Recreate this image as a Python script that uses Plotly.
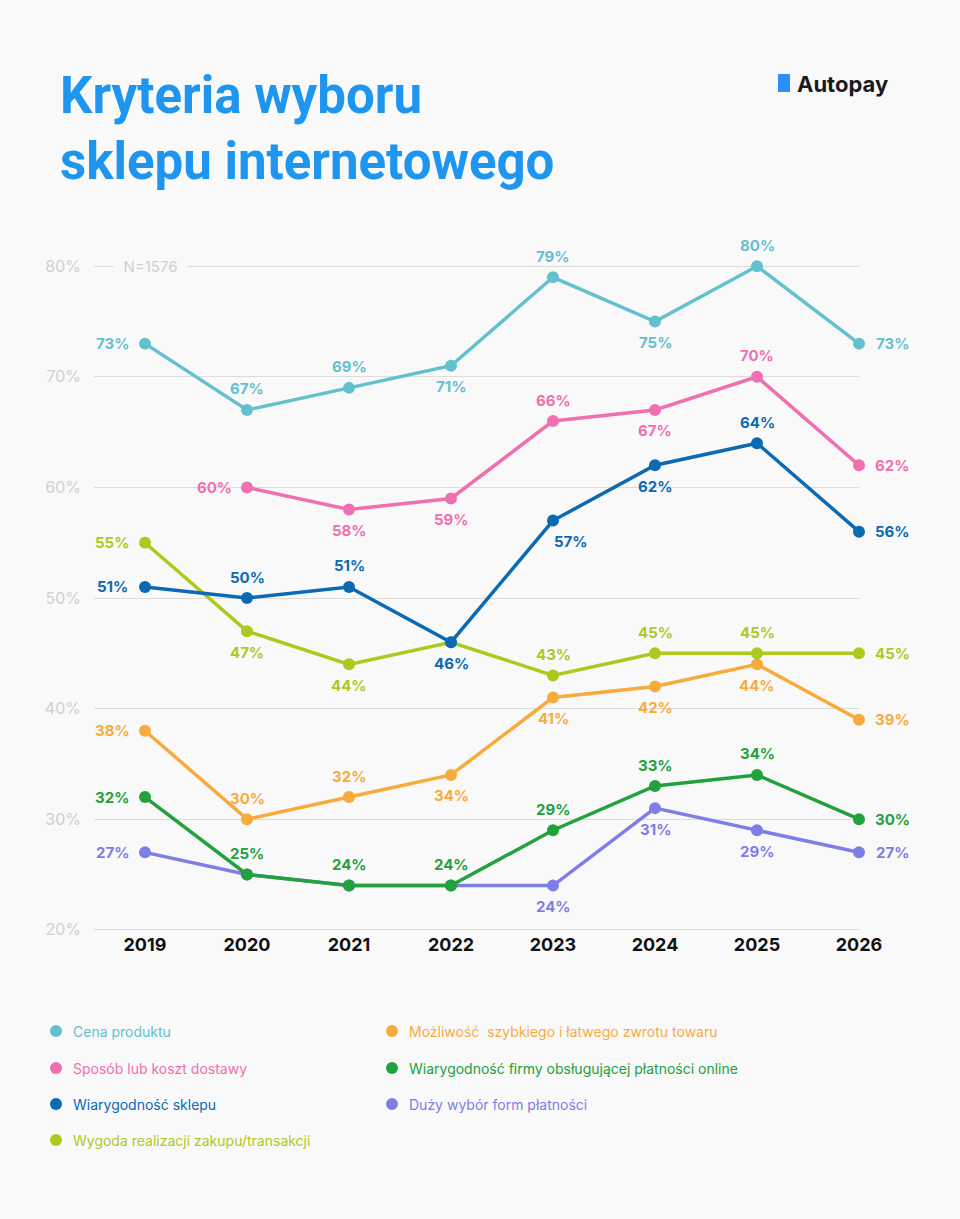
import plotly.graph_objects as go

years = [2019, 2020, 2021, 2022, 2023, 2024, 2025, 2026]
names = ["Cena produktu", "Sposób lub koszt dostawy", "Wiarygodność sklepu",
         "Wygoda realizacji zakupu/transakcji", "Możliwość  szybkiego i łatwego zwrotu towaru",
         "Wiarygodność firmy obsługującej płatności online", "Duży wybór form płatności"]
cena = [73, 67, 69, 71, 79, 75, 80, 73]
dostawa = [None, 60, 58, 59, 66, 67, 70, 62]
sklep = [51, 50, 51, 46, 57, 62, 64, 56]
wygoda = [55, 47, 44, 46, 43, 45, 45, 45]
zwrot = [38, 30, 32, 34, 41, 42, 44, 39]
firma = [32, 25, 24, 24, 29, 33, 34, 30]
wybor = [27, 25, 24, 24, 24, 31, 29, 27]
y_ticks = [20, 30, 40, 50, 60, 70, 80]
y_labels = [f"{t}%" for t in y_ticks]
series = [cena, dostawa, sklep, wygoda, zwrot, firma, wybor]
colors = ["#63c1cf", "#ef6fb0", "#0a6ab4", "#afc81e", "#f7ab3c", "#22a13c", "#7f7de6"]
# label placement: L left, R right, A above, B below, None = no label
pos = [
    ["L", "A", "A", "B", "A", "B", "A", "R"],
    [None, "L", "B", "B", "A", "B", "A", "R"],
    ["L", "A", "A", "B", "BR", "B", "A", "R"],
    ["L", "B", "B", None, "A", "A", "A", "R"],
    ["L", "A", "A", "B", "B", "B", "B", "R"],
    ["L", "A", "A", "A", "A", "A", "A", "R"],
    ["L", None, None, None, "B", "B", "B", "R"],
]
draw_order = [6, 5, 4, 3, 2, 1, 0]

W, H = 960, 1219
fig = go.Figure()
annots = []
for i in draw_order:
    fig.add_trace(go.Scatter(x=years, y=series[i], mode="lines+markers", name=names[i],
                             line=dict(color=colors[i], width=3.5),
                             marker=dict(size=12, color=colors[i]), cliponaxis=False,
                             showlegend=False))
    for x, v, p in zip(years, series[i], pos[i]):
        if v is None or p is None:
            continue
        sh = {"L": (-33, 0), "R": (33, 0), "A": (0, 21), "B": (0, -21), "BR": (18, -21)}[p]
        annots.append(dict(x=x, y=v, text=f"{v}%", showarrow=False, xshift=sh[0], yshift=sh[1],
                           font=dict(size=15, color=colors[i], family="Inter", weight="bold")))

# gap in top gridline for sample size
annots.append(dict(x=2019.05, y=80, xanchor="center", text="  N=1576  ", showarrow=False,
                   bgcolor="#f9f9f9",
                   font=dict(size=15, color="#d0d0d0", family="Inter")))
# title & logo
annots.append(dict(xref="paper", yref="paper", x=58 / W, y=1 - 64 / H, xanchor="left", yanchor="top",
                   align="left", showarrow=False,
                   text="Kryteria wyboru<br>sklepu internetowego",
                   font=dict(size=51, color="#1e96f0", family="Roboto", weight="bold")))
annots.append(dict(xref="paper", yref="paper", x=795 / W, y=1 - 84 / H, xanchor="left", yanchor="middle",
                   showarrow=False, text="Autopay",
                   font=dict(size=22, color="#1a1a1a", family="Inter", weight="bold")))

shapes = [dict(type="rect", xref="paper", yref="paper", x0=778 / W, x1=790 / W,
               y0=1 - 92 / H, y1=1 - 74 / H, fillcolor="#2a8ff7", line=dict(width=0))]
# legend
leg_x = [56, 392]
leg_y = [1031, 1068, 1104, 1140]
layout_idx = [(0, 0), (0, 1), (0, 2), (0, 3), (1, 0), (1, 1), (1, 2)]
for i, (c, r) in enumerate(layout_idx):
    yp = 1 - leg_y[r] / H
    shapes.append(dict(type="circle", xref="paper", yref="paper",
                       x0=(leg_x[c] - 6) / W, x1=(leg_x[c] + 6) / W,
                       y0=yp - 6 / H, y1=yp + 6 / H,
                       fillcolor=colors[i], line=dict(width=0)))
    annots.append(dict(xref="paper", yref="paper", x=(leg_x[c] + 15) / W, y=yp,
                       xanchor="left", yanchor="middle", showarrow=False, text=names[i],
                       font=dict(size=14, color=colors[i], family="Inter")))

fig.update_layout(
    width=W, height=H, paper_bgcolor="#f9f9f9", plot_bgcolor="#f9f9f9",
    margin=dict(l=0, r=0, t=0, b=0, autoexpand=False),
    annotations=annots, shapes=shapes,
    xaxis=dict(domain=[94 / W, 859 / W], range=[2018.5, 2026], tickvals=years, automargin=False,
               showgrid=False, zeroline=False, showline=False, ticks="",
               tickfont=dict(size=18, color="#111", family="Inter", weight="bold")),
    yaxis=dict(domain=[1 - 932 / H, 1 - 264 / H], range=[19.8, 80.2], tickvals=y_ticks,
               ticktext=y_labels, automargin=False,
               gridcolor="#dcdcdc", gridwidth=1, zeroline=False, showline=False,
               tickfont=dict(size=16, color="#d0d0d0", family="Inter"), ticklabelstandoff=12),
)
fig.write_html("out.html", config={"displayModeBar": False},
               post_script="document.body.style.margin='0';")
